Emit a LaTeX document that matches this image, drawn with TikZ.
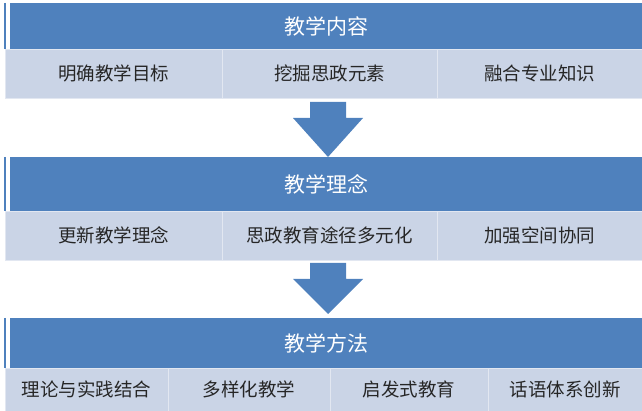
\documentclass[tikz,border=0pt]{standalone}
\usepackage{fontspec}
\newfontfamily\cjk{Noto Sans CJK SC}
\usetikzlibrary{calc}
\definecolor{headblue}{HTML}{4F81BD}
\definecolor{cellgray}{HTML}{CAD4E6}

\begin{document}
\begin{tikzpicture}[x=1pt,y=-1pt,
    head/.style={fill=headblue,text=white,anchor=north west,inner sep=0pt,minimum width=632pt,font=\cjk\fontsize{21}{21}\selectfont},
    cell/.style={fill=cellgray,draw=white!45!cellgray,anchor=north west,inner sep=0pt,text=black!85,font=\cjk\fontsize{18.5}{18.5}\selectfont},
    flow/.style={fill=headblue}]
  \useasboundingbox (0,0) rectangle (642,411);

  % teaching content
  \node[head,minimum height=46pt]          (h1) at (10,3)    {教学内容};
  \node[cell,minimum width=217pt,minimum height=49pt] (c11) at (5,49)   {明确教学目标};
  \node[cell,minimum width=215pt,minimum height=49pt] (c12) at (222,49) {挖掘思政元素};
  \node[cell,minimum width=205pt,minimum height=49pt] (c13) at (437,49) {融合专业知识};

  % teaching idea
  \node[head,minimum height=54pt]          (h2) at (10,157)  {教学理念};
  \node[cell,minimum width=217pt,minimum height=49pt] (c21) at (5,211)   {更新教学理念};
  \node[cell,minimum width=215pt,minimum height=49pt] (c22) at (222,211) {思政教育途径多元化};
  \node[cell,minimum width=205pt,minimum height=49pt] (c23) at (437,211) {加强空间协同};

  % teaching method
  \node[head,minimum height=50pt]          (h3) at (10,318)  {教学方法};
  \node[cell,minimum width=163pt,minimum height=43pt] (c31) at (5,368)   {理论与实践结合};
  \node[cell,minimum width=162pt,minimum height=43pt] (c32) at (168,368) {多样化教学};
  \node[cell,minimum width=158pt,minimum height=43pt] (c33) at (330,368) {启发式教育};
  \node[cell,minimum width=154pt,minimum height=43pt] (c34) at (488,368) {话语体系创新};

  \foreach \h in {h1,h2,h3}
    \draw[headblue,line width=1.6pt] ([xshift=-5pt]\h.north west) -- ([xshift=-5pt]\h.south west);

  \coordinate (a1) at (328,102);
  \coordinate (b1) at (328,157);
  \coordinate (a2) at (328,263);
  \coordinate (b2) at (328,314);

  \foreach \n in {1,2}
    \fill[flow] ($(a\n)+(-18,0)$) -- ($(a\n)+(18,0)$) -- ($(a\n)+(18,16)$) -- ($(a\n)+(35,16)$)
      -- (b\n) -- ($(a\n)+(-35,16)$) -- ($(a\n)+(-18,16)$) -- cycle;
\end{tikzpicture}
\end{document}
